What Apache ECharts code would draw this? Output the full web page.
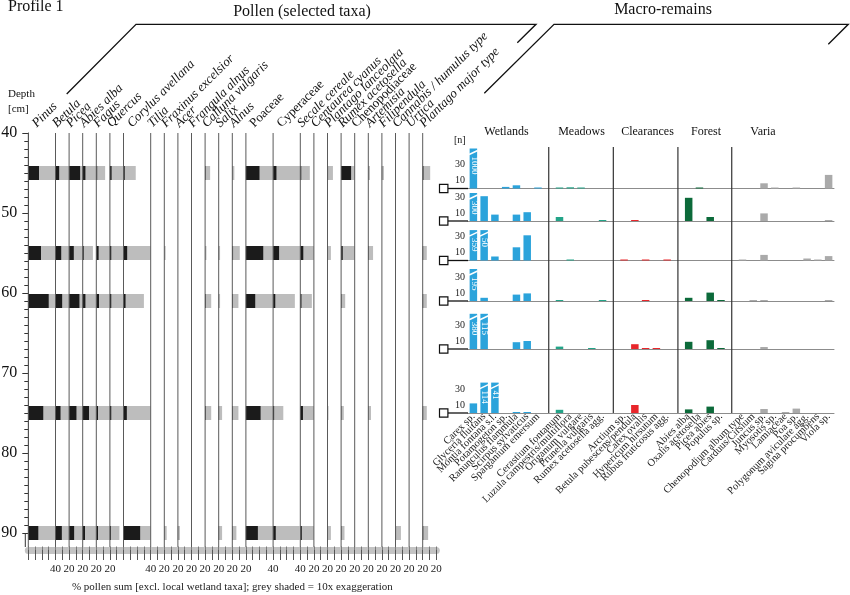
<!DOCTYPE html>
<html><head><meta charset="utf-8">
<script src="https://cdn.jsdelivr.net/npm/echarts/dist/echarts.min.js"></script>
<style>html,body{margin:0;padding:0;background:#fff}#c{width:850px;height:595px}</style>
</head><body><div id="c"></div>
<script>
// ---------- DATA ----------
const pollenTaxa = ['Pinus','Betula','Picea','Abies alba','Fagus','Quercus','Corylus avellana','Tilia','Fraxinus excelsior','Acer','Frangula alnus','Calluna vulgaris','Salix','Alnus','Poaceae','Cyperaceae','Secale cereale','Centaurea cyanus','Plantago lanceolata','Rumex acetosella','Chenopodiaceae','Artemisia','Filipendula','Cannabis / humulus type','Urtica','Plantago major type'];
const pollenScaleMax = [40,20,20,20,20,20,40,20,20,20,20,20,20,20,40,40,20,20,20,20,20,20,20,20,20,20];
const pollenTickLabels = ['40','20','20','20','20','','40','20','20','20','20','20','20','20','40','40','20','20','20','20','20','20','20','20','20','20'];
const depthTicks = [40,50,60,70,80,90];
const sampleDepths = [45,55,61,75,90];
const pollen45 = [15.7,5.4,16.2,4,1.3,2.5,1.8,0,0,0,0,0.74,0,0.3,20,4.9,1.4,0,0.8,14.7,0,0.25,0.3,0,0,1.1];
const pollen55 = [18.7,8.4,6.9,1.5,3.4,2.0,5.4,0,0.2,0,0,0.2,0.2,1.1,25.5,8.8,4.4,0,0.5,2.4,0,0.7,0,0,0,0.6];
const pollen61 = [30,9.8,15.2,4,4,2,3,0,0,0,0,0.9,0.2,0.9,13.7,3.2,1.7,0,0,0.6,0,0,0,0,0,0.6];
const pollen75 = [22,7.4,10.8,9.3,2.5,2,4.9,0,0,0,0,0.9,0.5,0.9,21.6,1.5,3.9,0,0.15,0.4,0,0.4,0,0,0,0.6];
const pollen90 = [14.7,9.3,7.4,3.4,2.5,1.4,24.5,0,0.35,0.3,0,0,0.5,0.6,17.6,3.9,2.2,0,0.5,0.5,0,0,0,0.8,0,0.8];

const wetlandTaxa = ['Carex sp.','Glyceria fluitans','Montia fontana s.l.','Potamogeton sp.','Ranunculus flammula','Scirpus sylvaticus','Sparganium emersum'];
const meadowTaxa = ['Cerastium fontanum','Luzula campestris/multiflora','Origanum vulgare','Prunella vulgaris','Rumex acetosella agg.'];
const clearanceTaxa = ['Arctium sp.','Betula pubescens/pendula','Carex ovalis','Hypericum hirsutum','Rubus fruticosus agg.'];
const forestTaxa = ['Abies alba','Oxalis acetosella','Picea abies','Populus sp.'];
const variaTaxa = ['Chenopodium album type','Carduus/Cirsium','Juncus sp.','Myosotis sp.','Lamiaceae','Poa sp.','Polygonum aviculare agg.','Sagina procumbens','Viola sp.'];
const macroGroupNames = ['Wetlands','Meadows','Clearances','Forest','Varia'];
const macroYLabels = [10,30];
// counts [n], order: wetlands(7) meadows(5) clearances(5) forest(4) varia(9)
const macroSample1 = [1000,0,0,2,4,0,1, 0.7,1.5,0.5,0,0, 0,0,0,0,0, 0,1,0,0, 0,0,6.5,1,0,1,0,0,17];
const macroSample2 = [300,31,8,0,8,11,0, 5,0,0,0,0.7, 0,0.7,0,0,0, 29,0,5,0, 0,0,9.5,0,0,0,0,0,1];
const macroSample3 = [359,50,5,0,16.5,31.5,0, 0,0.5,0,0,0, 0.6,0,0.6,0,0.6, 0,0,0,0, 1,0,7,0,0,0,2.5,1.2,5.5];
const macroSample4 = [195,4,0,0,8,9.5,0, 0.5,0,0,0,0.5, 0,0,0.5,0,0, 4,0,10.5,0.7, 0,0.5,0.5,0,0,0,0,0,0.7];
const macroSample5 = [380,115,0,0,8.5,10,0, 3,0,0,0.5,0, 0,6,0.5,0.5,0, 9,0,11,0.7, 0,0,2.5,0,0,0,0,0,0];
const macroSample6 = [12,114,41,0,0.7,1,0, 4,0,0,0,0, 0,10,0,0,0, 4.5,0,8,0, 0,0,5,0,1,5.5,0,0,0];

// ---------- LAYOUT / STYLE ----------
const SERIF = '"Liberation Serif","DejaVu Serif",serif';
const groupColors = ['#2ba3db','#23a488','#e8262b','#0c6a3a','#aaaaaa'];
const rowBaselines = [188.5,221,260.5,301,349,413];
const brokenCap = [50,35,38,40,44,38];
const PX_PER_N = 0.8, Y_MAX = 38;

// pollen derived
const pollenOffsets = []; let acc = 0;
pollenScaleMax.forEach(m => { pollenOffsets.push(acc); acc += m; });
const pollenTotal = acc;
const endLabels = {};
pollenScaleMax.forEach((m,i) => { endLabels[pollenOffsets[i] + m] = pollenTickLabels[i]; });
const pollenSamples = [pollen45,pollen55,pollen61,pollen75,pollen90];
const pollenBarData = [];
pollenSamples.forEach((arr, s) => arr.forEach((v, t) => pollenBarData.push([pollenOffsets[t], sampleDepths[s], v, pollenScaleMax[t]])));

// macro derived
const groups = [wetlandTaxa, meadowTaxa, clearanceTaxa, forestTaxa, variaTaxa];
const slots = [], slotColor = [], slotOfTaxon = [], sepSlots = [];
groups.forEach((g, gi) => {
  if (gi > 0) { sepSlots.push(slots.length); slots.push(' '.repeat(gi)); slotColor.push(null); }
  g.forEach(n => { slotOfTaxon.push(slots.length); slots.push(n); slotColor.push(groupColors[gi]); });
});
const macroSamples = [macroSample1,macroSample2,macroSample3,macroSample4,macroSample5,macroSample6];

const grids = [{left:28.3, top:133, width:408, height:400, outerBoundsMode:'none'}];
rowBaselines.forEach(b => grids.push({left:468, width:366, top:b - Y_MAX*PX_PER_N, height:Y_MAX*PX_PER_N, outerBoundsMode:'none'}));
grids.push({left:468, width:366, top:147, height:413-147, outerBoundsMode:'none'});

const xAxes = [
  {gridIndex:0, type:'value', min:0, max:pollenTotal, interval:10, position:'bottom', offset:17,
   axisLine:{show:true, onZero:false, lineStyle:{color:'#c3c3c3', width:7}},
   axisTick:{show:true, inside:true, length:3.5, lineStyle:{color:'#7a7a7a'}},
   axisLabel:{show:false}, splitLine:{show:false}},
  {gridIndex:0, type:'value', min:0, max:pollenTotal, interval:10, position:'bottom', offset:17,
   axisLine:{show:false, onZero:false},
   axisTick:{show:true, length:10, lineStyle:{color:'#555'}},
   axisLabel:{show:true, margin:14, fontSize:11, fontFamily:SERIF, color:'#222', hideOverlap:false,
     formatter: v => endLabels[Math.round(v)] || ''},
   splitLine:{show:false},
   name:'% pollen sum [excl. local wetland taxa]; grey shaded = 10x exaggeration',
   nameLocation:'middle', nameGap:32, nameTextStyle:{fontSize:11, fontFamily:SERIF, color:'#222'}}
];
const yAxes = [
  {gridIndex:0, type:'value', inverse:true, min:depthTicks[0], max:depthTicks[depthTicks.length-1], interval:10, offset:3,
   axisLine:{show:true, lineStyle:{color:'#333', width:1}},
   axisTick:{show:true, length:6, lineStyle:{color:'#333'}},
   minorTick:{show:true, splitNumber:10, length:4, lineStyle:{color:'#333'}},
   axisLabel:{fontSize:16, color:'#111', margin:8, fontFamily:SERIF, formatter: v => depthTicks.includes(v) ? String(v) : ''},
   splitLine:{show:false}, minorSplitLine:{show:false}}
];
rowBaselines.forEach((b, k) => {
  const last = k === rowBaselines.length - 1;
  xAxes.push({gridIndex:k+1, type:'category', data:slots,
    axisLine:{show:true, onZero:false, lineStyle:{color:'#8c8c8c', width:1}},
    axisTick:{show:false}, splitLine:{show:false},
    axisLabel:{show:last, interval:0, rotate:45, fontSize:10.5, fontFamily:SERIF, color:'#222', margin:2, hideOverlap:false}});
  yAxes.push({gridIndex:k+1, type:'value', min:0, max:Y_MAX, interval:10,
    axisLine:{show:false}, axisTick:{show:false}, splitLine:{show:false},
    axisLabel:{fontSize:10, fontFamily:SERIF, color:'#222', margin:3, formatter: v => macroYLabels.includes(v) ? String(v) : ''}});
});
xAxes.push({gridIndex:7, type:'category', data:slots, show:false});
yAxes.push({gridIndex:7, type:'value', min:0, max:1, show:false});

const series = [];
// pollen bars
series.push({type:'custom', xAxisIndex:0, yAxisIndex:0, clip:false, silent:true, z:2,
  data: pollenBarData,
  renderItem: (params, api) => {
    const off = api.value(0), d = api.value(1), v = api.value(2), mx = api.value(3);
    const p0 = api.coord([off, d - 0.875]);
    const pg = api.coord([off + Math.min(v*10, mx), d + 0.875]);
    const pb = api.coord([off + Math.min(v, mx), d + 0.875]);
    return {type:'group', children:[
      {type:'rect', shape:{x:p0[0], y:p0[1], width:pg[0]-p0[0], height:pg[1]-p0[1]}, style:{fill:'#bdbdbd'}},
      {type:'rect', shape:{x:p0[0], y:p0[1], width:pb[0]-p0[0], height:pb[1]-p0[1]}, style:{fill:'#1b1b1b'}}
    ]};
  }});
// pollen column baselines
series.push({type:'custom', xAxisIndex:0, yAxisIndex:0, clip:false, silent:true, z:3,
  data: pollenOffsets.map(o => [o]),
  renderItem: (params, api) => {
    const o = api.value(0);
    const a = api.coord([o, 40]), b = api.coord([o, 91.75]);
    const ch = [{type:'line', shape:{x1:a[0], y1:a[1], x2:b[0], y2:b[1]}, style:{stroke:'#5a5a5a', lineWidth:1}}];
    if (params.dataIndex === 0) {
      const c = api.coord([o, 90]);
      const x = params.coordSys.x - 3;
      ch.push({type:'line', shape:{x1:x, y1:c[1], x2:x, y2:b[1]}, style:{stroke:'#333', lineWidth:1}});
    }
    return {type:'group', children:ch};
  }});
// pollen taxon names
series.push({type:'custom', xAxisIndex:0, yAxisIndex:0, clip:false, silent:true, z:4,
  data: pollenTaxa.map((n, i) => [pollenOffsets[i] + pollenScaleMax[i]/2, i]),
  renderItem: (params, api) => {
    const p = api.coord([api.value(0), 40]);
    const name = pollenTaxa[api.value(1)];
    const it = /aceae$/.test(name) ? '' : 'italic ';
    return {type:'text', x:p[0]-3, y:p[1]-3, rotation:Math.PI/4,
      style:{text:name, x:0, y:0, align:'left', verticalAlign:'bottom', fill:'#111', font: it + '13px ' + SERIF}};
  }});
// macro rows
macroSamples.forEach((arr, k) => {
  const cap = brokenCap[k];
  series.push({type:'custom', xAxisIndex:k+2, yAxisIndex:k+1, clip:false, silent:true, z:3,
    data: arr.map((v, t) => [slotOfTaxon[t], v]),
    renderItem: (params, api) => {
      const i = api.value(0), v = api.value(1);
      if (!v) return null;
      const shown = Math.min(v, cap);
      const base = api.coord([i, 0]), top = api.coord([i, shown]);
      const w = 7.5;
      let h = base[1] - top[1]; if (h < 1) h = 1;
      const ch = [{type:'rect', shape:{x:base[0]-w/2, y:base[1]-h, width:w, height:h}, style:{fill:slotColor[i]}}];
      if (v > cap) {
        const yb = top[1] + 4;
        ch.push({type:'line', shape:{x1:base[0]-w/2-0.5, y1:yb+2, x2:base[0]+w/2+0.5, y2:yb-2}, style:{stroke:'#fff', lineWidth:1.5}});
        ch.push({type:'text', x:base[0]+0.5, y:yb+4, rotation:-Math.PI/2,
          style:{text:String(v), x:0, y:0, align:'left', verticalAlign:'middle', fill:'#fff', font:'9px ' + SERIF}});
      }
      return {type:'group', children:ch};
    }});
  // sample marker square + connector
  series.push({type:'custom', xAxisIndex:k+2, yAxisIndex:k+1, clip:false, silent:true, z:4,
    data:[[0,0]],
    renderItem: (params, api) => {
      const b = api.coord([0, 0]);
      const left = params.coordSys.x;
      return {type:'group', children:[
        {type:'line', shape:{x1:left-20, y1:b[1], x2:left, y2:b[1]}, style:{stroke:'#111', lineWidth:1.3}},
        {type:'rect', shape:{x:left-28.5, y:b[1]-4.2, width:8.4, height:8.4}, style:{fill:'#fff', stroke:'#111', lineWidth:1.2}}
      ]};
    }});
});
// group separators
series.push({type:'custom', xAxisIndex:8, yAxisIndex:7, clip:false, silent:true, z:2,
  data: sepSlots.map(s => [s]),
  renderItem: (params, api) => {
    const a = api.coord([api.value(0), 1]), b = api.coord([api.value(0), 0]);
    return {type:'line', shape:{x1:a[0], y1:a[1], x2:b[0], y2:b[1]}, style:{stroke:'#333', lineWidth:1.2}};
  }});

const groupTitleX = [506.5, 581.5, 647.5, 706, 763];
const graphic = [
  {type:'text', x:8, y:7, style:{text:'Profile 1', font:'16px ' + SERIF, fill:'#111', verticalAlign:'middle'}},
  {type:'text', x:302, y:12, style:{text:'Pollen (selected taxa)', font:'16px ' + SERIF, fill:'#111', align:'center', verticalAlign:'middle'}},
  {type:'text', x:663, y:10, style:{text:'Macro-remains', font:'16px ' + SERIF, fill:'#111', align:'center', verticalAlign:'middle'}},
  {type:'text', x:8, y:94, style:{text:'Depth', font:'11px ' + SERIF, fill:'#111', verticalAlign:'middle'}},
  {type:'text', x:8, y:109, style:{text:'[cm]', font:'11px ' + SERIF, fill:'#111', verticalAlign:'middle'}},
  {type:'text', x:454, y:140, style:{text:'[n]', font:'10px ' + SERIF, fill:'#111', verticalAlign:'middle'}},
  {type:'polyline', shape:{points:[[66.7,94],[136,24.3],[536,24.3],[517.3,42.7]]}, style:{stroke:'#111', lineWidth:1.3, fill:'none'}},
  {type:'polyline', shape:{points:[[484.3,93.3],[554,24.3],[848.3,24.3],[828.3,44.3]]}, style:{stroke:'#111', lineWidth:1.3, fill:'none'}}
];
macroGroupNames.forEach((n, i) => graphic.push({type:'text', x:groupTitleX[i], y:132, style:{text:n, font:'12px ' + SERIF, fill:'#111', align:'center', verticalAlign:'middle'}}));

const chart = echarts.init(document.getElementById('c'), null, {width:850, height:595});
chart.setOption({
  animation:false,
  backgroundColor:'#fff',
  textStyle:{fontFamily:SERIF},
  grid: grids, xAxis: xAxes, yAxis: yAxes, series: series, graphic: graphic
});
</script></body></html>
